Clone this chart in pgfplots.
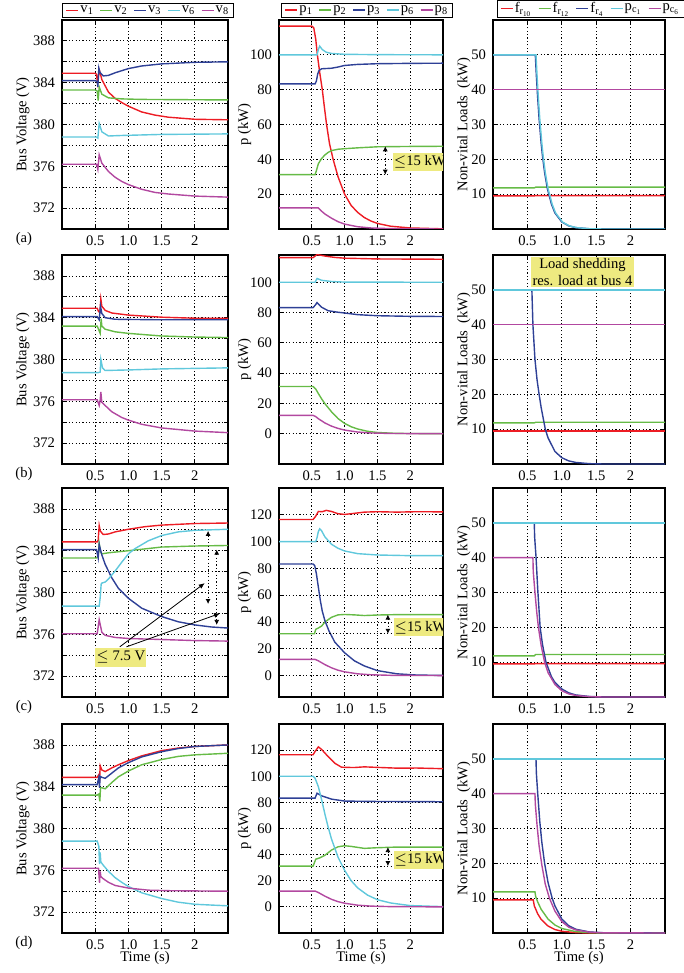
\documentclass[border=0pt]{standalone}
\usepackage{fontspec}
\setmainfont{Liberation Serif}
\usepackage{pgfplots}
\pgfplotsset{compat=1.18}
\usetikzlibrary{arrows.meta}

\definecolor{cR}{RGB}{237,28,36}
\definecolor{cG}{RGB}{102,187,70}
\definecolor{cB}{RGB}{46,64,150}
\definecolor{cC}{RGB}{96,200,220}
\definecolor{cM}{RGB}{178,72,160}
\definecolor{ybox}{RGB}{238,234,128}
\newcommand\fs{\fontsize{7.3}{8.5}\selectfont}

\tikzset{gridstyle/.style={black, line width=0.4pt, dash pattern=on 0.6pt off 1.1pt}}

\pgfplotsset{
  legend image code/.code={\draw[#1,line width=0.8pt] (0pt,0pt) -- (6pt,0pt);},
  base/.style={
    scale only axis, height=104.5pt,
    xmin=0, xmax=2.5, xtick={0.5,1,1.5,2}, xticklabels={0.5,1.0,1.5,2},
    grid=major, major grid style={gridstyle},
    tick align=inside, major tick length=2pt, minor tick length=2pt,
    tick style={black, line width=0.4pt},
    axis line style={line width=0.7pt},
    font=\fs, tick label style={font=\fs}, label style={font=\fs},
    /pgf/number format/assume math mode=true,
    every axis plot/.append style={line width=0.7pt, mark=none},
    legend columns=5, legend cell align=left,
    legend style={font=\fs, draw=black, line width=0.5pt, inner xsep=1.5pt, inner ysep=0.6pt,
      nodes={inner sep=0.6pt, text depth=0.1em},
      at={(0.5,1)}, anchor=south, yshift=1.2pt,
      /tikz/every even column/.append style={column sep=2.2pt}},
    xlabel style={at={(axis description cs:0.5,-0.12)}, anchor=center},
  },
  c1/.style={base, width=83pt, ymin=370, ymax=390,
    ytick={372,376,...,388}, minor ytick={374,378,...,386},
    grid=both, minor grid style={gridstyle},
    ylabel={Bus Voltage (V)},
    ylabel style={at={(axis description cs:-0.235,0.5)}, anchor=center}},
  c2/.style={base, width=82pt, ylabel={p (kW)},
    ylabel style={at={(axis description cs:-0.21,0.5)}, anchor=center}},
  c3/.style={base, width=86pt, ymin=0, ymax=60, ytick={10,20,...,50},
    ylabel={Non-vital Loads\ \ (kW)},
    ylabel style={at={(axis description cs:-0.17,0.5)}, anchor=center}},
  tag/.style={extra description/.code={\node[font=\fs] at (-0.229,-0.05) {(#1)};}},
  R/.style={draw=cR}, G/.style={draw=cG}, B/.style={draw=cB}, C/.style={draw=cC}, M/.style={draw=cM},
}

\begin{document}
\begin{tikzpicture}
\path[use as bounding box] (0,0) rectangle (342pt,-486.5pt);

% ---------------- row (a)
\begin{axis}[c1, at={(31pt,-10pt)}, anchor=north west, tag=a, legend style={xshift=1.5pt}]
\addplot[R] coordinates {(0,384.9)(0.5,384.9)(0.52,384.8)(0.535,384.0)(0.55,384.7)(0.565,385.15)(0.6,384.3)(0.7,383.1)(0.8,382.5)(0.9,382.1)(1.0,381.75)(1.2,381.2)(1.4,380.9)(1.6,380.7)(1.8,380.6)(2.0,380.5)(2.5,380.45)};
\addplot[G] coordinates {(0,383.3)(0.5,383.3)(0.53,383.2)(0.545,382.3)(0.56,383.6)(0.6,382.9)(0.7,382.55)(0.9,382.45)(1.2,382.4)(2.5,382.35)};
\addplot[B] coordinates {(0,384.2)(0.5,384.2)(0.53,384.1)(0.54,383.6)(0.555,385.4)(0.57,385.0)(0.62,384.65)(0.7,384.7)(0.8,384.95)(1.0,385.35)(1.2,385.6)(1.5,385.8)(2.0,385.95)(2.5,386.0)};
\addplot[C] coordinates {(0,378.8)(0.52,378.8)(0.54,378.7)(0.56,380.1)(0.6,379.3)(0.7,378.9)(0.9,378.95)(1.5,379.05)(2.5,379.1)};
\addplot[M] coordinates {(0,376.2)(0.52,376.2)(0.54,375.7)(0.56,377.1)(0.6,376.3)(0.7,375.5)(0.8,374.95)(0.9,374.55)(1.0,374.25)(1.2,373.8)(1.4,373.5)(1.6,373.35)(1.8,373.25)(2.0,373.15)(2.5,373.05)};
\legend{v\textsubscript{1},v\textsubscript{2},v\textsubscript{3},v\textsubscript{6},v\textsubscript{8}}
\end{axis}

\begin{axis}[c2, at={(139.5pt,-10pt)}, anchor=north west, ymin=0, ymax=120, ytick={20,40,...,100}, legend style={xshift=3pt}]
\addplot[R] coordinates {(0,116.5)(0.5,116.5)(0.53,115.5)(0.56,109)(0.585,100)(0.62,90)(0.66,80)(0.69,70.5)(0.725,60)(0.77,49)(0.825,40)(0.9,30)(1.0,20)(1.1,13.5)(1.2,9.5)(1.3,6.6)(1.4,4.6)(1.5,3.2)(1.7,1.6)(2.0,0.6)(2.5,0.1)};
\addplot[G] coordinates {(0,31.2)(0.55,31.2)(0.57,33.5)(0.6,37.5)(0.65,40.5)(0.7,42.5)(0.75,44)(0.8,45)(0.9,45.8)(1.0,46.1)(1.2,46.6)(1.5,47.2)(2.0,47.4)(2.5,47.5)};
\addplot[B] coordinates {(0,83.3)(0.55,83.3)(0.57,85)(0.59,89)(0.61,91)(0.65,92)(0.8,92.3)(0.9,93)(1.0,93.9)(1.2,94.5)(1.5,94.9)(2.0,95.1)(2.5,95.2)};
\addplot[C] coordinates {(0,100)(0.58,100)(0.6,103)(0.62,105)(0.66,103)(0.72,101.5)(0.8,100.8)(1.0,100.3)(1.5,100.1)(2.5,100)};
\addplot[M] coordinates {(0,12.1)(0.6,12.1)(0.65,10.2)(0.7,8.6)(0.8,6.2)(0.9,4.2)(1.0,2.8)(1.2,1.3)(1.4,0.6)(1.7,0.2)(2.0,0.1)(2.5,0)};
\legend{p\textsubscript{1},p\textsubscript{2},p\textsubscript{3},p\textsubscript{6},p\textsubscript{8}}
\draw[gridstyle] (axis cs:0.56,31.2) -- (axis cs:1.68,31.2);
\draw[gridstyle, {Latex[length=2.5pt,width=2.5pt]}-{Latex[length=2.5pt,width=2.5pt]}] (axis cs:1.62,47.5) -- (axis cs:1.62,31.2);
\node[fill=ybox, inner sep=0.5pt, minimum height=9pt, anchor=west, font=\fs] at (axis cs:1.73,38.7) {$\leq$15 kW};
\end{axis}

\begin{axis}[c3, at={(246.5pt,-10pt)}, anchor=north west, legend style={xshift=5.8pt}]
\addplot[R] coordinates {(0,9.5)(0.6,9.5)(0.62,9.6)(2.5,9.6)};
\addplot[G] coordinates {(0,11.8)(0.6,11.8)(0.62,12.0)(2.5,12.0)};
\addplot[B] coordinates {(0,50)(0.615,50)(0.63,44.1)(0.645,39.0)(0.67,31.6)(0.7,24.6)(0.72,20.8)(0.75,16.2)(0.79,11.6)(0.85,7.1)(0.9,4.6)(1.0,2.0)(1.1,0.9)(1.2,0.4)(1.4,0.07)(1.6,0)(2.5,0)};
\addplot[C] coordinates {(0,50)(0.625,50)(0.64,44.1)(0.655,39.0)(0.68,31.6)(0.71,24.6)(0.73,20.8)(0.76,16.2)(0.8,11.6)(0.86,7.1)(0.91,4.6)(1.01,2.0)(1.11,0.9)(1.21,0.4)(1.41,0.07)(1.61,0)(2.5,0)};
\addplot[M] coordinates {(0,40)(2.5,40)};
\legend{f\textsubscript{r\textsubscript{10}},f\textsubscript{r\textsubscript{12}},f\textsubscript{r\textsubscript{4}},p\textsubscript{c\textsubscript{1}},p\textsubscript{c\textsubscript{6}}}
\end{axis}

% ---------------- row (b)
\begin{axis}[c1, at={(31pt,-127.5pt)}, anchor=north west, tag=b]
\addplot[R] coordinates {(0,384.9)(0.53,384.9)(0.55,384.6)(0.57,384.5)(0.585,385.8)(0.6,385.1)(0.65,384.7)(0.75,384.45)(1.0,384.25)(1.5,384.05)(2.0,383.95)(2.5,383.95)};
\addplot[G] coordinates {(0,383.2)(0.53,383.2)(0.55,382.9)(0.575,382.5)(0.59,383.9)(0.6,383.2)(0.65,382.9)(0.8,382.65)(1.0,382.5)(1.5,382.25)(2.0,382.15)(2.5,382.1)};
\addplot[B] coordinates {(0,384.1)(0.53,384.1)(0.56,383.8)(0.58,385.1)(0.6,384.4)(0.65,384.0)(0.8,383.85)(1.5,383.8)(2.5,383.8)};
\addplot[C] coordinates {(0,378.75)(0.55,378.75)(0.575,378.8)(0.585,380.0)(0.61,379.2)(0.65,378.95)(1.0,379.0)(1.5,379.1)(2.5,379.2)};
\addplot[M] coordinates {(0,376.15)(0.53,376.15)(0.56,375.6)(0.575,376.1)(0.585,376.9)(0.6,375.9)(0.65,375.6)(0.75,375.0)(0.9,374.45)(1.0,374.2)(1.2,373.8)(1.5,373.45)(2.0,373.15)(2.5,373.0)};
\end{axis}

\begin{axis}[c2, at={(139.5pt,-127.5pt)}, anchor=north west, ymin=-20, ymax=118, ytick={0,20,...,100}]
\addplot[R] coordinates {(0,116.3)(0.52,116.3)(0.58,118.3)(0.7,117.3)(0.85,116.4)(1.0,115.9)(1.5,115.4)(2.5,115.2)};
\addplot[G] coordinates {(0,31.2)(0.52,31.2)(0.56,29.5)(0.6,26.5)(0.65,23)(0.7,19.8)(0.8,14.5)(0.9,10)(1.0,6.8)(1.1,4.6)(1.2,3.1)(1.35,1.6)(1.5,0.8)(1.8,0.2)(2.5,0)};
\addplot[B] coordinates {(0,83.3)(0.52,83.3)(0.555,85)(0.58,86.6)(0.65,83.5)(0.75,81.2)(0.9,80.2)(1.0,79.7)(1.2,78.6)(1.5,77.9)(2.0,77.5)(2.5,77.4)};
\addplot[C] coordinates {(0,100)(0.55,100)(0.58,102.5)(0.65,101.3)(0.8,100.5)(1.0,100.1)(2.5,100)};
\addplot[M] coordinates {(0,12.1)(0.52,12.1)(0.56,11.3)(0.6,9.9)(0.7,7.1)(0.8,5)(0.9,3.5)(1.0,2.4)(1.2,1.1)(1.4,0.5)(1.7,0.15)(2.5,0)};
\end{axis}

\begin{axis}[c3, at={(246.5pt,-127.5pt)}, anchor=north west]
\addplot[R] coordinates {(0,9.5)(2.5,9.5)};
\addplot[G] coordinates {(0,11.8)(0.6,11.8)(0.62,12.0)(2.5,12.0)};
\addplot[B] coordinates {(0,50)(0.565,50)(0.58,40)(0.61,30)(0.64,24.2)(0.67,20)(0.7,16.2)(0.76,10)(0.8,7.5)(0.9,3.6)(1.0,1.8)(1.1,0.9)(1.2,0.45)(1.4,0.1)(1.6,0)(2.5,0)};
\addplot[C] coordinates {(0,50)(2.5,50)};
\addplot[M] coordinates {(0,40)(2.5,40)};
\node[fill=ybox, inner sep=0.8pt, align=center, font=\fs] at (axis cs:1.3,55.1) {Load shedding\\res. load at bus 4};
\end{axis}

% ---------------- row (c)
\begin{axis}[c1, at={(31pt,-244pt)}, anchor=north west, tag=c]
\addplot[R] coordinates {(0,384.85)(0.53,384.85)(0.545,385.0)(0.56,386.4)(0.575,385.9)(0.62,385.55)(0.7,385.6)(0.8,385.8)(1.0,386.05)(1.25,386.3)(1.5,386.45)(2.0,386.6)(2.5,386.65)};
\addplot[G] coordinates {(0,383.3)(0.52,383.3)(0.545,383.5)(0.56,384.7)(0.58,383.9)(0.6,383.7)(0.7,383.8)(1.0,384.0)(1.5,384.35)(2.0,384.45)(2.5,384.5)};
\addplot[B] coordinates {(0,384.1)(0.52,384.1)(0.545,383.3)(0.56,384.6)(0.575,384.2)(0.6,383.6)(0.65,382.7)(0.75,381.4)(0.85,380.4)(1.0,379.45)(1.2,378.5)(1.5,377.7)(1.75,377.2)(2.0,376.9)(2.25,376.7)(2.5,376.6)};
\addplot[C] coordinates {(0,378.7)(0.56,378.7)(0.575,379.5)(0.59,380.8)(0.6,380.9)(0.65,381.0)(0.7,381.3)(0.8,382.05)(0.9,382.9)(1.0,383.7)(1.1,384.2)(1.3,384.95)(1.5,385.45)(1.75,385.8)(2.0,385.95)(2.5,386.05)};
\addplot[M] coordinates {(0,376.05)(0.53,376.05)(0.56,377.4)(0.6,376.2)(0.65,375.9)(0.8,375.7)(1.0,375.6)(1.5,375.5)(2.0,375.4)(2.5,375.35)};
\draw[gridstyle, {Latex[length=2.5pt,width=2.5pt]}-{Latex[length=2.5pt,width=2.5pt]}] (axis cs:2.2,385.9) -- (axis cs:2.2,378.9);
\draw[gridstyle, {Latex[length=2.5pt,width=2.5pt]}-{Latex[length=2.5pt,width=2.5pt]}] (axis cs:2.33,384.1) -- (axis cs:2.33,376.9);
\draw[line width=0.4pt, -{Latex[length=3pt,width=2.5pt]}] (axis cs:0.87,374.8) -- (axis cs:2.15,380.9);
\draw[line width=0.4pt, -{Latex[length=3pt,width=2.5pt]}] (axis cs:0.97,374.8) -- (axis cs:2.38,378.0);
\node[fill=ybox, inner sep=0.5pt, minimum width=23pt, minimum height=9.5pt, font=\fs] at (axis cs:0.885,373.8) {$\leq$ 7.5 V};
\end{axis}

\begin{axis}[c2, at={(139.5pt,-244pt)}, anchor=north west, ymin=-16, ymax=140, ytick={0,20,...,120}]
\addplot[R] coordinates {(0,116.5)(0.52,116.5)(0.56,119)(0.6,122.5)(0.66,122.3)(0.72,123.3)(0.8,122.5)(0.9,120.8)(1.0,120.3)(1.1,120.8)(1.3,122.0)(1.5,122.3)(1.8,122.0)(2.1,122.3)(2.5,122.2)};
\addplot[G] coordinates {(0,31.2)(0.54,31.2)(0.56,34.5)(0.6,35.5)(0.65,37)(0.7,40)(0.8,43.5)(0.9,45.3)(1.0,45.6)(1.15,45.3)(1.3,44.8)(1.5,45.2)(1.8,45.5)(2.5,45.5)};
\addplot[B] coordinates {(0,83.3)(0.52,83.3)(0.545,82)(0.57,76)(0.6,66)(0.63,56)(0.66,48)(0.7,41)(0.76,33.5)(0.85,25)(1.0,17)(1.15,11)(1.3,7.2)(1.5,3.7)(1.8,1.3)(2.1,0.4)(2.5,0.1)};
\addplot[C] coordinates {(0,100)(0.56,100)(0.58,103)(0.6,107.5)(0.62,109.5)(0.65,108)(0.7,103.5)(0.8,98)(0.9,95)(1.0,93)(1.2,91)(1.5,90)(2.0,89.5)(2.5,89.5)};
\addplot[M] coordinates {(0,12.1)(0.55,12.1)(0.6,11)(0.7,8.2)(0.8,5.8)(0.9,4)(1.0,2.8)(1.2,1.3)(1.4,0.6)(1.7,0.2)(2.0,0.1)(2.5,0)};
\draw[gridstyle] (axis cs:0.56,31.2) -- (axis cs:1.72,31.2);
\draw[gridstyle, {Latex[length=2.5pt,width=2.5pt]}-{Latex[length=2.5pt,width=2.5pt]}] (axis cs:1.66,45.5) -- (axis cs:1.66,31.2);
\node[fill=ybox, inner sep=0.5pt, minimum height=9pt, anchor=west, font=\fs] at (axis cs:1.74,36) {$\leq$15 kW};
\end{axis}

\begin{axis}[c3, at={(246.5pt,-244pt)}, anchor=north west]
\addplot[R] coordinates {(0,9.5)(0.6,9.5)(0.62,9.6)(2.5,9.6)};
\addplot[G] coordinates {(0,11.8)(0.6,11.8)(0.62,12.2)(2.5,12.2)};
\addplot[B] coordinates {(0,50)(0.6,50)(0.605,46)(0.626,40)(0.65,31)(0.685,20)(0.72,15)(0.77,10)(0.85,5.8)(0.9,4.2)(1.0,2.3)(1.1,1.2)(1.2,0.6)(1.4,0.15)(1.6,0)(2.5,0)};
\addplot[C] coordinates {(0,50)(2.5,50)};
\addplot[M] coordinates {(0,40)(0.58,40)(0.585,36)(0.61,30)(0.635,24.5)(0.66,20)(0.7,14.8)(0.75,10)(0.8,7)(0.9,3.6)(1.0,1.8)(1.1,0.9)(1.2,0.45)(1.4,0.1)(1.6,0)(2.5,0)};
\end{axis}

% ---------------- row (d)
\begin{axis}[c1, at={(31pt,-362pt)}, anchor=north west, tag=d, xlabel={Time (s)}]
\addplot[R] coordinates {(0,384.9)(0.53,384.9)(0.55,385.1)(0.565,384.5)(0.575,386.0)(0.6,385.6)(0.65,385.45)(0.75,385.8)(0.85,386.1)(1.0,386.5)(1.2,386.95)(1.5,387.45)(1.75,387.7)(2.0,387.85)(2.5,388.0)};
\addplot[G] coordinates {(0,383.2)(0.53,383.2)(0.555,383.3)(0.57,382.6)(0.58,383.9)(0.6,383.9)(0.65,383.8)(0.75,384.4)(0.85,384.95)(1.0,385.5)(1.2,386.1)(1.5,386.6)(1.75,386.9)(2.0,387.05)(2.5,387.2)};
\addplot[B] coordinates {(0,384.2)(0.53,384.2)(0.555,384.9)(0.565,383.9)(0.575,385.0)(0.6,384.9)(0.65,384.8)(0.75,385.3)(0.85,385.8)(1.0,386.3)(1.2,386.85)(1.5,387.35)(1.75,387.65)(2.0,387.85)(2.5,388.0)};
\addplot[C] coordinates {(0,378.8)(0.53,378.8)(0.555,378.3)(0.565,376.6)(0.575,377.7)(0.585,376.8)(0.62,376.5)(0.7,375.9)(0.8,375.3)(0.9,374.85)(1.0,374.45)(1.2,373.85)(1.5,373.3)(1.75,372.95)(2.0,372.75)(2.5,372.6)};
\addplot[M] coordinates {(0,376.2)(0.55,376.2)(0.565,374.8)(0.575,375.9)(0.585,375.4)(0.62,375.2)(0.7,374.85)(0.8,374.55)(1.0,374.3)(1.3,374.1)(1.6,374.05)(2.5,374.0)};
\end{axis}

\begin{axis}[c2, at={(139.5pt,-362pt)}, anchor=north west, ymin=-20, ymax=140, ytick={0,20,...,120}, xlabel={Time (s)}]
\addplot[R] coordinates {(0,116.5)(0.52,116.5)(0.55,119)(0.6,122.5)(0.65,120.5)(0.75,115)(0.85,110)(0.95,107)(1.0,106.8)(1.15,106.7)(1.3,107.2)(1.5,106.8)(1.8,106.2)(2.1,106.3)(2.5,105.8)};
\addplot[G] coordinates {(0,31.2)(0.52,31.2)(0.56,36.5)(0.62,37.5)(0.7,39.5)(0.8,43.5)(0.9,46)(1.0,46.8)(1.1,46.3)(1.3,44.8)(1.5,45.3)(1.8,45.8)(2.5,45.8)};
\addplot[B] coordinates {(0,83.3)(0.55,83.3)(0.58,87)(0.65,85)(0.8,82.5)(1.0,81)(1.5,80.7)(2.5,80.5)};
\addplot[C] coordinates {(0,100)(0.52,100)(0.55,98.5)(0.6,92)(0.65,82)(0.7,71)(0.75,61)(0.8,52)(0.9,38)(1.0,28)(1.1,20)(1.2,14.5)(1.35,9)(1.5,5.5)(1.7,3)(2.0,1)(2.5,0.2)};
\addplot[M] coordinates {(0,12.1)(0.55,12.1)(0.6,11)(0.7,8.2)(0.8,5.8)(0.9,4)(1.0,2.8)(1.2,1.3)(1.4,0.6)(1.7,0.2)(2.5,0)};
\draw[gridstyle] (axis cs:0.56,31.2) -- (axis cs:1.72,31.2);
\draw[gridstyle, {Latex[length=2.5pt,width=2.5pt]}-{Latex[length=2.5pt,width=2.5pt]}] (axis cs:1.66,45.8) -- (axis cs:1.66,31.2);
\node[fill=ybox, inner sep=0.5pt, minimum height=9pt, anchor=west, font=\fs] at (axis cs:1.74,35.8) {$\leq$15 kW};
\end{axis}

\begin{axis}[c3, at={(246.5pt,-362pt)}, anchor=north west, xlabel={Time (s)}]
\addplot[R] coordinates {(0,9.5)(0.585,9.5)(0.6,7.8)(0.65,5.5)(0.7,3.9)(0.8,2.0)(0.9,1.0)(1.0,0.5)(1.2,0.12)(1.4,0)(2.5,0)};
\addplot[G] coordinates {(0,11.8)(0.61,11.8)(0.62,10.5)(0.65,8.9)(0.7,6.8)(0.8,4.0)(0.9,2.3)(1.0,1.3)(1.2,0.4)(1.4,0.12)(1.6,0)(2.5,0)};
\addplot[B] coordinates {(0,50)(0.625,50)(0.63,46)(0.65,40)(0.68,32)(0.71,26)(0.75,20)(0.8,14.5)(0.86,10)(0.9,7.8)(1.0,4)(1.1,2.1)(1.2,1.1)(1.4,0.3)(1.6,0.08)(2.5,0)};
\addplot[C] coordinates {(0,50)(2.5,50)};
\addplot[M] coordinates {(0,40)(0.61,40)(0.615,37)(0.64,31)(0.67,25)(0.71,19.5)(0.76,14)(0.82,10)(0.9,6.3)(1.0,3.3)(1.1,1.7)(1.2,0.9)(1.4,0.25)(1.6,0.05)(2.5,0)};
\end{axis}
\end{tikzpicture}
\end{document}
